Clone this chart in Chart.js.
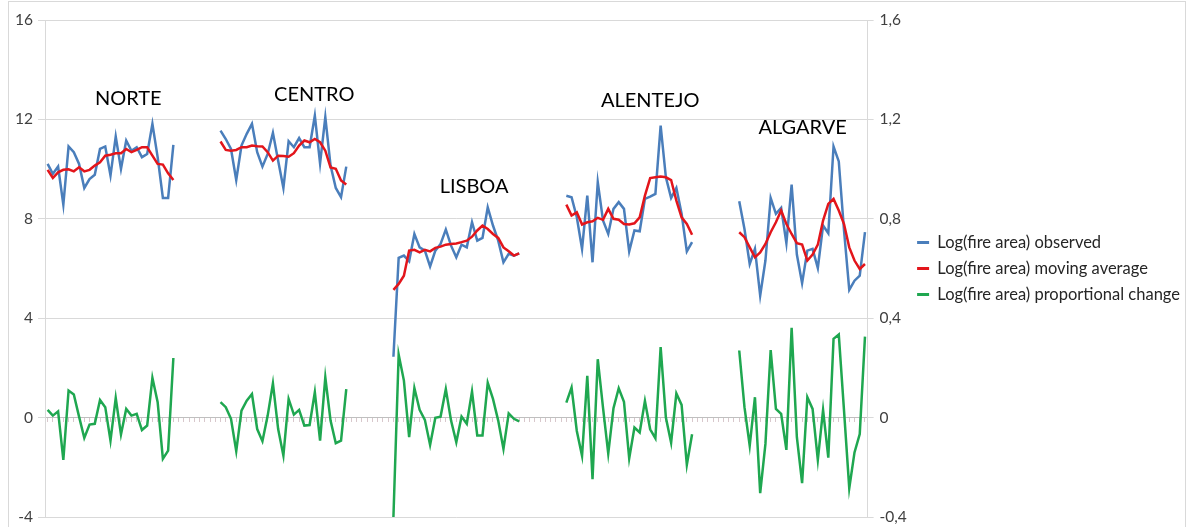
<!DOCTYPE html>
<html>
<head>
<meta charset="utf-8">
<script src="https://cdn.jsdelivr.net/npm/chart.js@4.4.1/dist/chart.umd.min.js"></script>
<style>
  body { margin: 0; background: #fff; }
  #wrap { position: relative; width: 1190px; height: 527px; overflow: hidden; }
  #frame { position: absolute; left: 8px; top: 1px; width: 1176px; height: 560px; border: 1px solid #d9d9d9; pointer-events: none; }
  canvas { position: absolute; left: 0; top: 0; }
</style>
</head>
<body>
<div id="wrap">
  <canvas id="fireChart" width="1190" height="527"></canvas>
  <div id="frame"></div>
</div>
<script>
// Regions (25 yearly points each, separated by blank categories)
const regionNames = ["NORTE", "CENTRO", "LISBOA", "ALENTEJO", "ALGARVE"]
const gapLength = 8

// Log(fire area) observed
const norteObserved = [10.21, 9.81, 10.10, 8.57, 10.91, 10.68, 10.21, 9.24, 9.60, 9.77, 10.81, 10.91, 9.74, 11.31, 10.01, 11.15, 10.74, 10.88, 10.48, 10.61, 11.82, 10.48, 8.84, 8.84, 10.97]
const centroObserved = [11.55, 11.21, 10.81, 9.56, 10.95, 11.42, 11.82, 10.68, 10.10, 10.61, 11.46, 10.34, 9.24, 11.12, 10.88, 11.25, 10.88, 10.88, 12.15, 10.23, 12.09, 10.14, 9.24, 8.87, 10.10]
const lisboaObserved = [2.45, 6.43, 6.52, 6.29, 7.39, 6.85, 6.72, 6.08, 6.72, 6.99, 7.57, 6.92, 6.45, 6.96, 6.85, 7.86, 7.12, 7.23, 8.46, 7.73, 7.12, 6.25, 6.59, 6.52, 6.61]
const alentejoObserved = [8.93, 8.87, 8.06, 6.79, 8.93, 6.25, 9.47, 7.93, 7.39, 8.40, 8.67, 8.40, 6.69, 7.53, 7.50, 8.80, 8.89, 9.00, 11.75, 9.67, 8.84, 9.24, 8.20, 6.69, 7.06]
const algarveObserved = [8.71, 7.59, 6.18, 6.79, 4.91, 6.32, 8.84, 8.20, 8.44, 7.02, 9.38, 6.56, 5.41, 6.72, 6.79, 6.02, 7.73, 7.42, 10.91, 10.31, 7.53, 5.14, 5.51, 5.71, 7.46]

// Log(fire area) moving average
const norteMovingAvg = [9.97, 9.64, 9.87, 9.97, 9.99, 9.91, 10.07, 9.91, 9.97, 10.14, 10.27, 10.54, 10.58, 10.64, 10.64, 10.81, 10.68, 10.77, 10.88, 10.88, 10.54, 10.21, 10.18, 9.83, 9.56]
const centroMovingAvg = [11.11, 10.77, 10.74, 10.77, 10.88, 10.88, 10.95, 10.92, 10.91, 10.68, 10.34, 10.54, 10.53, 10.50, 10.64, 10.95, 11.15, 11.08, 11.21, 11.08, 10.74, 10.07, 10.01, 9.54, 9.38]
const lisboaMovingAvg = [5.14, 5.38, 5.71, 6.72, 6.75, 6.65, 6.75, 6.69, 6.83, 6.88, 6.96, 6.99, 7.01, 7.06, 7.12, 7.28, 7.53, 7.73, 7.59, 7.39, 7.23, 6.85, 6.69, 6.52, 6.61]
const alentejoMovingAvg = [8.57, 8.13, 8.26, 7.77, 7.86, 7.90, 8.04, 7.96, 8.40, 8.00, 7.96, 7.79, 7.77, 7.82, 8.06, 8.93, 9.64, 9.67, 9.70, 9.67, 9.56, 8.73, 8.06, 7.79, 7.36]
const algarveMovingAvg = [7.46, 7.26, 6.85, 6.45, 6.65, 6.99, 7.46, 7.86, 8.33, 7.79, 7.39, 7.02, 6.96, 6.32, 6.56, 6.96, 7.93, 8.60, 8.80, 8.33, 7.79, 6.85, 6.32, 5.98, 6.18]

// Log(fire area) proportional change (right axis)
const norteChange = [0.031, 0.008, 0.025, -0.170, 0.109, 0.093, 0.004, -0.082, -0.028, -0.025, 0.071, 0.042, -0.093, 0.079, -0.068, 0.035, 0.008, 0.015, -0.050, -0.032, 0.160, 0.062, -0.166, -0.133, 0.240]
const centroChange = [0.062, 0.042, -0.005, -0.135, 0.028, 0.068, 0.095, -0.046, -0.095, 0.008, 0.138, -0.046, -0.153, 0.075, 0.012, 0.031, -0.032, -0.030, 0.102, -0.093, 0.162, -0.012, -0.103, -0.093, 0.115]
const lisboaChange = [-0.40, 0.254, 0.149, -0.079, 0.119, 0.031, -0.009, -0.110, -0.001, 0.004, 0.115, -0.012, -0.099, 0.004, -0.025, 0.105, -0.072, -0.072, 0.140, 0.075, -0.012, -0.126, 0.017, -0.005, -0.015]
const alentejoChange = [0.060, 0.121, -0.054, -0.154, 0.168, -0.248, 0.235, 0.040, -0.145, 0.038, 0.118, 0.064, -0.164, -0.040, -0.060, 0.067, -0.047, -0.083, 0.284, 0.000, -0.101, 0.097, 0.051, -0.190, -0.067]
const algarveChange = [0.270, 0.042, -0.113, 0.082, -0.304, -0.106, 0.272, 0.035, 0.015, -0.130, 0.361, -0.079, -0.264, 0.082, 0.035, -0.170, 0.031, -0.161, 0.317, 0.334, 0.028, -0.284, -0.140, -0.066, 0.326]

// Tick labels
const leftTicks = [-4, 0, 4, 8, 12, 16]
const rightTicks = [-0.4, 0, 0.4, 0.8, 1.2, 1.6]

// join the regions into one category axis with blank categories between them
function joinRegions(parts) {
  const out = []
  parts.forEach((part, k) => {
    if (k > 0) for (let g = 0; g < gapLength; g++) out.push(null)
    out.push(...part)
  })
  return out
}

const labels = []
regionNames.forEach((name, k) => {
  if (k > 0) for (let g = 0; g < gapLength; g++) labels.push("")
  norteObserved.forEach((_, i) => labels.push(name + " " + (i + 1)))
})

const observed = joinRegions([norteObserved, centroObserved, lisboaObserved, alentejoObserved, algarveObserved])
const movingAvg = joinRegions([norteMovingAvg, centroMovingAvg, lisboaMovingAvg, alentejoMovingAvg, algarveMovingAvg])
const propChange = joinRegions([norteChange, centroChange, lisboaChange, alentejoChange, algarveChange])

// Region names written over the plot
const regionLabels = {
  id: "regionLabels",
  afterDatasetsDraw(chart, args, opts) {
    const { ctx, scales } = chart
    ctx.save()
    ctx.font = opts.font
    ctx.fillStyle = opts.color
    ctx.textAlign = "center"
    ctx.textBaseline = "middle"
    opts.items.forEach((it) => {
      ctx.fillText(it.text, scales.x.getPixelForValue(it.at), scales.y.getPixelForValue(it.y))
    })
    ctx.restore()
  },
}

const fmtComma = (v) => {
  const r = Math.round(v * 10) / 10
  return r === 0 ? "0" : String(r).replace(".", ",")
}

// vertical axes: fixed width, no extra room kept for half labels
const fitAxis = (width) => (scale) => {
  scale.width = width
  scale.paddingTop = 0
  scale.paddingBottom = 0
}

const chart = new Chart(document.getElementById("fireChart"), {
  type: "line",
  data: {
    labels: labels,
    datasets: [
      {
        label: "Log(fire area) observed",
        data: observed,
        borderColor: "#4a7ebb",
        backgroundColor: "#4a7ebb",
        borderWidth: 2.5,
        pointRadius: 0,
        yAxisID: "y",
        order: 1,
      },
      {
        label: "Log(fire area) moving average",
        data: movingAvg,
        borderColor: "#e3151b",
        backgroundColor: "#e3151b",
        borderWidth: 2.5,
        pointRadius: 0,
        yAxisID: "y",
        order: 0,
      },
      {
        label: "Log(fire area) proportional change",
        data: propChange,
        borderColor: "#1fa750",
        backgroundColor: "#1fa750",
        borderWidth: 2.5,
        pointRadius: 0,
        yAxisID: "y2",
        order: 2,
      },
    ],
  },
  options: {
    responsive: false,
    animation: false,
    spanGaps: false,
    layout: { padding: { top: 20, right: 0, bottom: 10, left: 0 } },
    plugins: {
      tooltip: { enabled: false },
      legend: {
        position: "right",
        maxWidth: 283,
        labels: {
          color: "#262626",
          font: { family: "Lato", size: 16.5 },
          boxWidth: 12,
          boxHeight: 3,
          padding: 9.5,
          generateLabels(chart) {
            const items = Chart.defaults.plugins.legend.labels.generateLabels(chart)
            items.forEach((i) => {
              i.lineWidth = 0
              i.fillStyle = i.strokeStyle
            })
            return items.sort((a, b) => a.datasetIndex - b.datasetIndex)
          },
        },
      },
      regionLabels: {
        font: "20px Lato",
        color: "#000",
        items: [
          { text: regionNames[0], at: 15.4, y: 12.84 },
          { text: regionNames[1], at: 50.9, y: 13.0 },
          { text: regionNames[2], at: 81.4, y: 9.3 },
          { text: regionNames[3], at: 115.0, y: 12.76 },
          { text: regionNames[4], at: 144.1, y: 11.67 },
        ],
      },
    },
    scales: {
      x: {
        type: "category",
        position: { y: 0 },
        offset: true,
        ticks: { display: false },
        grid: { drawOnChartArea: false, drawTicks: true, tickLength: 4, color: "#d8c8cc" },
        border: { display: true, color: "#bfbfbf", width: 1 },
      },
      y: {
        position: "left",
        min: -4,
        max: 16,
        afterBuildTicks: (scale) => { scale.ticks = leftTicks.map((v) => ({ value: v })) },
        afterFit: fitAxis(45),
        ticks: { color: "#404040", font: { family: "Lato", size: 15.5 }, padding: 5 },
        grid: { color: "#d9d9d9", tickLength: 7 },
        border: { color: "#d9d9d9" },
      },
      y2: {
        position: "right",
        min: -0.4,
        max: 1.6,
        afterBuildTicks: (scale) => { scale.ticks = rightTicks.map((v) => ({ value: v })) },
        afterFit: fitAxis(40),
        ticks: { color: "#404040", font: { family: "Lato", size: 15.5 }, padding: 6, callback: (v) => fmtComma(v) },
        grid: { drawOnChartArea: false, color: "#d9d9d9", tickLength: 6 },
        border: { color: "#d9d9d9" },
      },
    },
  },
  plugins: [regionLabels],
})
</script>
</body>
</html>
